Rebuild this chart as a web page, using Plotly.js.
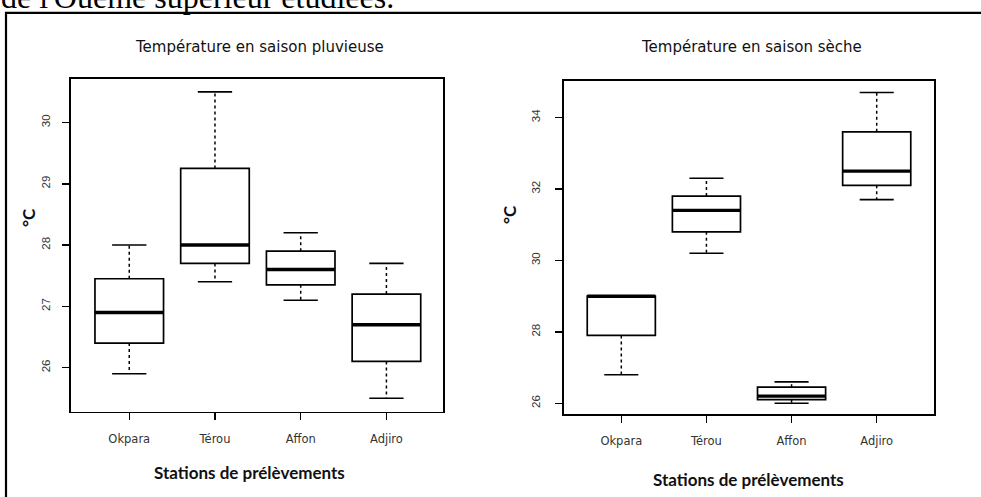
<!DOCTYPE html>
<html>
<head>
<meta charset="utf-8">
<script src="https://cdn.plot.ly/plotly-3.0.1.min.js"></script>
<style>
  html, body { margin: 0; padding: 0; background: #fff; }
  #chart { width: 981px; height: 497px; }
</style>
</head>
<body>
<div id="chart"></div>
<script>
// ---- Data ----
const stations = ['Okpara', 'Térou', 'Affon', 'Adjiro'];

// Température en saison pluvieuse (°C)
const rainyMin = [25.9, 27.4, 27.1, 25.5];
const rainyQ1  = [26.4, 27.7, 27.35, 26.1];
const rainyMed = [26.9, 28.0, 27.6, 26.7];
const rainyQ3  = [27.45, 29.25, 27.9, 27.2];
const rainyMax = [28.0, 30.5, 28.2, 27.7];

// Température en saison sèche (°C)
const dryMin = [26.8, 30.2, 26.0, 31.7];
const dryQ1  = [27.9, 30.8, 26.1, 32.1];
const dryMed = [29.0, 31.4, 26.2, 32.5];
const dryQ3  = [29.0, 31.8, 26.45, 33.6];
const dryMax = [29.0, 32.3, 26.6, 34.7];

const rainyTicks = [26, 27, 28, 29, 30];
const dryTicks = [26, 28, 30, 32, 34];

const titleRainy = 'Température en saison pluvieuse';
const titleDry = 'Température en saison sèche';
const xTitle = 'Stations de prélèvements';
const yTitle = '°C';
const pageText = "de l'Ouémé supérieur étudiées.";

// ---- Styles ----
const BOXW = 0.8, CAPW = 0.4;
const pos = stations.map((_, i) => i);

function boxTraces(mins, q1, med, q3, maxs, xa, ya) {
  const traces = [];
  traces.push({
    type: 'box', x: pos, q1: q1, median: med, q3: q3,
    lowerfence: q1, upperfence: q3,
    width: BOXW, whiskerwidth: 0,
    fillcolor: '#ffffff', line: { color: '#000', width: 1.7 },
    boxpoints: false, hoverinfo: 'skip', showlegend: false,
    xaxis: xa, yaxis: ya
  });
  // whiskers (dashed)
  const wx = [], wy = [];
  pos.forEach((p, i) => {
    wx.push(p, p, null, p, p, null);
    wy.push(q3[i], maxs[i], null, q1[i], mins[i], null);
  });
  traces.push({
    type: 'scatter', mode: 'lines', x: wx, y: wy,
    line: { color: '#000', width: 1.5, dash: '3px,3px' },
    hoverinfo: 'skip', showlegend: false, xaxis: xa, yaxis: ya
  });
  // staples
  const cx = [], cy = [];
  pos.forEach((p, i) => {
    cx.push(p - CAPW / 2, p + CAPW / 2, null, p - CAPW / 2, p + CAPW / 2, null);
    cy.push(maxs[i], maxs[i], null, mins[i], mins[i], null);
  });
  traces.push({
    type: 'scatter', mode: 'lines', x: cx, y: cy,
    line: { color: '#000', width: 1.6 },
    hoverinfo: 'skip', showlegend: false, xaxis: xa, yaxis: ya
  });
  // medians (thick)
  const mx = [], my = [];
  pos.forEach((p, i) => {
    mx.push(p - BOXW / 2, p + BOXW / 2, null);
    my.push(med[i], med[i], null);
  });
  traces.push({
    type: 'scatter', mode: 'lines', x: mx, y: my,
    line: { color: '#000', width: 3.4 },
    hoverinfo: 'skip', showlegend: false, xaxis: xa, yaxis: ya
  });
  return traces;
}

const data = [].concat(
  boxTraces(rainyMin, rainyQ1, rainyMed, rainyQ3, rainyMax, 'x', 'y'),
  boxTraces(dryMin, dryQ1, dryMed, dryQ3, dryMax, 'x2', 'y2')
);

const W = 981, H = 497;
const px = v => v / W;
const py = v => 1 - v / H;

const xTickFont = { family: 'DejaVu Sans', size: 11.5, color: '#333' };
const yTickFont = { family: 'Liberation Sans, Arial', size: 11.5, color: '#333' };

function xAxis(domain, range, anchor) {
  return {
    domain: domain, range: range, anchor: anchor,
    tickmode: 'array', tickvals: pos, ticktext: stations,
    ticks: 'outside', ticklen: 7, tickwidth: 1.5, tickcolor: '#000',
    showline: true, linecolor: '#000', linewidth: 1.6, mirror: true,
    showgrid: false, zeroline: false, tickfont: xTickFont, ticklabelstandoff: 9,
    fixedrange: true
  };
}
function yAxis(domain, range, ticks, standoff, anchor) {
  return {
    domain: domain, range: range, anchor: anchor, tickmode: 'array', tickvals: ticks,
    ticks: 'outside', ticklen: 7, tickwidth: 1.5, tickcolor: '#000', tickangle: -90,
    showline: true, linecolor: '#000', linewidth: 1.6, mirror: true,
    showgrid: false, zeroline: false, tickfont: yTickFont, ticklabelstandoff: standoff,
    fixedrange: true
  };
}

const layout = {
  width: W, height: H,
  margin: { l: 0, r: 0, t: 0, b: 0 },
  paper_bgcolor: '#fff', plot_bgcolor: '#fff',
  showlegend: false,
  xaxis: xAxis([px(70.7), px(443)], [-0.683, 3.66], 'y'),
  yaxis: yAxis([py(411.7), py(79)], [25.28, 30.71], rainyTicks, 8, 'x'),
  xaxis2: xAxis([px(564), px(934)], [-0.673, 3.673], 'y2'),
  yaxis2: yAxis([py(414), py(80.7)], [25.70, 35.03], dryTicks, 11, 'x2'),
  shapes: [
    { type: 'rect', xref: 'paper', yref: 'paper',
      x0: px(6), x1: 1.05, y0: -0.05, y1: py(12.8),
      line: { color: '#000', width: 2.2 }, fillcolor: 'rgba(0,0,0,0)', layer: 'below' }
  ],
  annotations: [
    { text: pageText, xref: 'paper', yref: 'paper', x: px(-1), y: py(17),
      xanchor: 'left', yanchor: 'bottom', showarrow: false,
      font: { family: 'Liberation Serif, Times New Roman', size: 32, color: '#000' } },
    { text: titleRainy, xref: 'paper', yref: 'paper', x: px(259), y: py(47),
      xanchor: 'center', yanchor: 'middle', showarrow: false,
      font: { family: 'DejaVu Sans', size: 15, color: '#111' } },
    { text: titleDry, xref: 'paper', yref: 'paper', x: px(751), y: py(47),
      xanchor: 'center', yanchor: 'middle', showarrow: false,
      font: { family: 'DejaVu Sans', size: 15, color: '#111' } },
    { text: xTitle, xref: 'paper', yref: 'paper', x: px(250), y: py(472),
      xanchor: 'center', yanchor: 'middle', showarrow: false,
      font: { family: 'Lato', size: 17, weight: 'bold', color: '#111' } },
    { text: xTitle, xref: 'paper', yref: 'paper', x: px(748), y: py(479),
      xanchor: 'center', yanchor: 'middle', showarrow: false,
      font: { family: 'Lato', size: 17, weight: 'bold', color: '#111' } },
    { text: yTitle, xref: 'paper', yref: 'paper', x: px(28), y: py(218),
      xanchor: 'center', yanchor: 'middle', textangle: -90, showarrow: false,
      font: { family: 'Lato', size: 17, weight: 'bold', color: '#111' } },
    { text: yTitle, xref: 'paper', yref: 'paper', x: px(509), y: py(215),
      xanchor: 'center', yanchor: 'middle', textangle: -90, showarrow: false,
      font: { family: 'Lato', size: 17, weight: 'bold', color: '#111' } }
  ]
};

Plotly.newPlot('chart', data, layout, { staticPlot: true, displayModeBar: false });
</script>
</body>
</html>
